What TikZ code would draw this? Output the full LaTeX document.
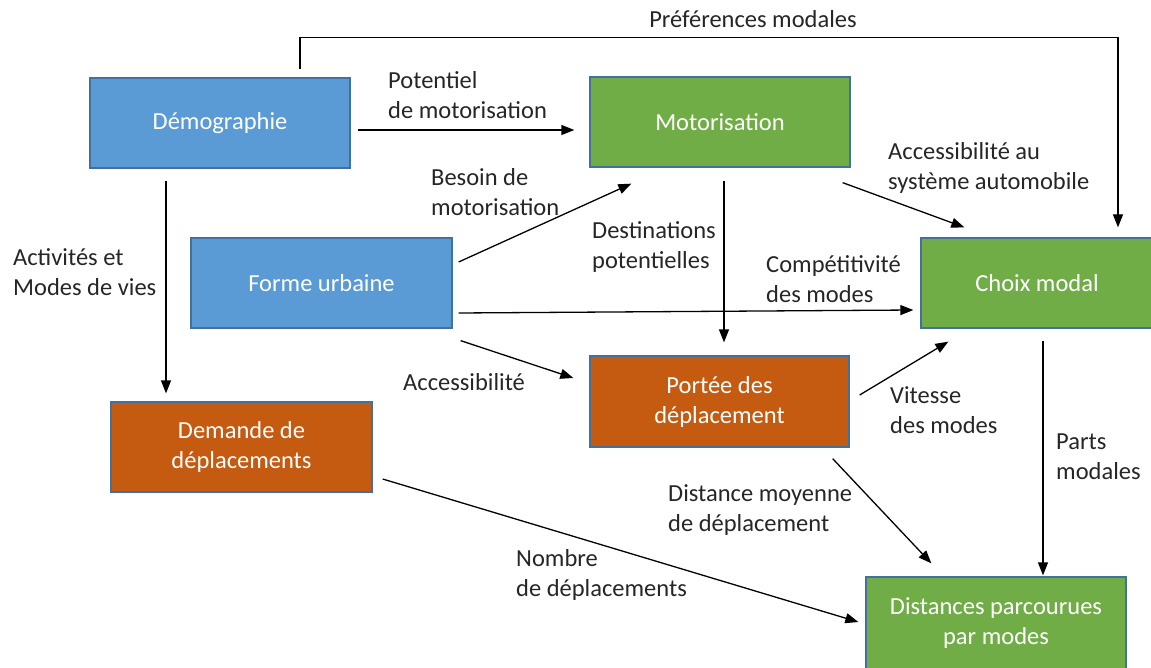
\documentclass[tikz,border=0pt]{standalone}
\usepackage{fontspec}
\setmainfont{Carlito}
\usetikzlibrary{calc,arrows.meta}
\definecolor{cblue}{HTML}{5B9BD5}
\definecolor{cgreen}{HTML}{70AD47}
\definecolor{corange}{HTML}{C55A11}
\definecolor{cborder}{HTML}{41719C}
\definecolor{ctext}{HTML}{262626}
\tikzset{
  box/.style={rectangle, draw=cborder, line width=1.3pt, minimum width=260pt, minimum height=90pt,
    inner sep=0pt, align=center, text=white, font=\fontsize{24.5}{30}\selectfont},
  lbl/.style={anchor=west, align=left, inner sep=0pt, text=ctext, font=\fontsize{24.5}{30}\selectfont},
  arr/.style={line width=1.3pt, -{Triangle[length=13pt,width=10pt]}}
}
\begin{document}
\begin{tikzpicture}[x=1pt,y=-1pt]
\useasboundingbox (0,0) rectangle (1151,668);
\fill[white] (0,0) rectangle (1151,668);
% boxes
\node[box, fill=cblue] (demo) at (220,123) {Démographie};
\node[box, fill=cgreen] (motor) at (720,122) {Motorisation};
\node[box, fill=cgreen, minimum width=232pt] (choix) at (1037,283) {Choix modal};
\node[box, fill=cblue, minimum width=261pt] (forme) at (321.5,283) {Forme urbaine};
\node[box, fill=corange, minimum width=261pt] (demande) at (241.5,447) {Demande de\\déplacements};
\node[box, fill=corange, minimum width=259pt, minimum height=91pt] (portee) at (719.5,401.5) {Portée des\\déplacement};
\node[box, fill=cgreen, minimum height=110pt,
  label={[text=white, align=center, inner sep=0pt, font=\fontsize{24.5}{30}\selectfont, yshift=9pt]center:Distances parcourues\\par modes}]
  (dist) at (996,632) {};
% connectors
\draw[arr] ($(demo.east)+(7,7)$) -- ($(motor.west)+(-15,8)$);
\draw[arr] ($(demo.north)+(80,-8)$) -- ++(0,-32) -| ($(choix.north)+(81,-10)$);
\draw[arr] ($(forme.east)+(6,-21)$) -- ($(motor.south west)+(42,16)$);
\draw[arr] ($(motor.south)+(4,13)$) -- ($(portee.north)+(4.5,-13)$);
\draw[arr] ($(forme.east)+(6,30)$) -- ($(choix.west)+(-7,27)$);
\draw[arr] ($(motor.south east)+(-8,15)$) -- ($(choix.north west)+(44,-10)$);
\draw[arr] ($(demo.south)+(-54,12)$) -- ($(demande.north)+(-75.5,-8)$);
\draw[arr] ($(forme.south east)+(8,12)$) -- ($(portee.west)+(-16,-23.5)$);
\draw[arr] ($(portee.east)+(10,-6.5)$) -- ($(choix.south west)+(28,13)$);
\draw[arr] ($(choix.south)+(6,12)$) -- ($(dist.north)+(47,-1)$);
\draw[arr] ($(portee.south east)+(-17,11)$) -- ($(dist.north west)+(66,-13)$);
\draw[arr] ($(demande.east)+(10,32)$) -- ($(dist.west)+(-7,-10)$);
% labels
\node[lbl, anchor=center] (lpref) at (753,19) {Préférences modales};
\node[lbl] (lpot) at (388,95) {Potentiel\\de motorisation};
\node[lbl] (lbes) at (431,192) {Besoin de\\motorisation};
\node[lbl] (ldest) at (592,247) {Destinations\\potentielles};
\node[lbl] (lacc) at (888,168) {Accessibilité au\\système automobile};
\node[lbl] (lcomp) at (766,279) {Compétitivité\\des modes};
\node[lbl] (lact) at (13,272) {Activités et\\Modes de vies};
\node[lbl] (laccb) at (403,382) {Accessibilité};
\node[lbl] (lvit) at (890,410.5) {Vitesse\\des modes};
\node[lbl] (lparts) at (1056,457) {Parts\\modales};
\node[lbl] (ldistm) at (668,510) {Distance moyenne\\de déplacement};
\node[lbl] (lnomb) at (516,575) {Nombre\\de déplacements};
\end{tikzpicture}
\end{document}
